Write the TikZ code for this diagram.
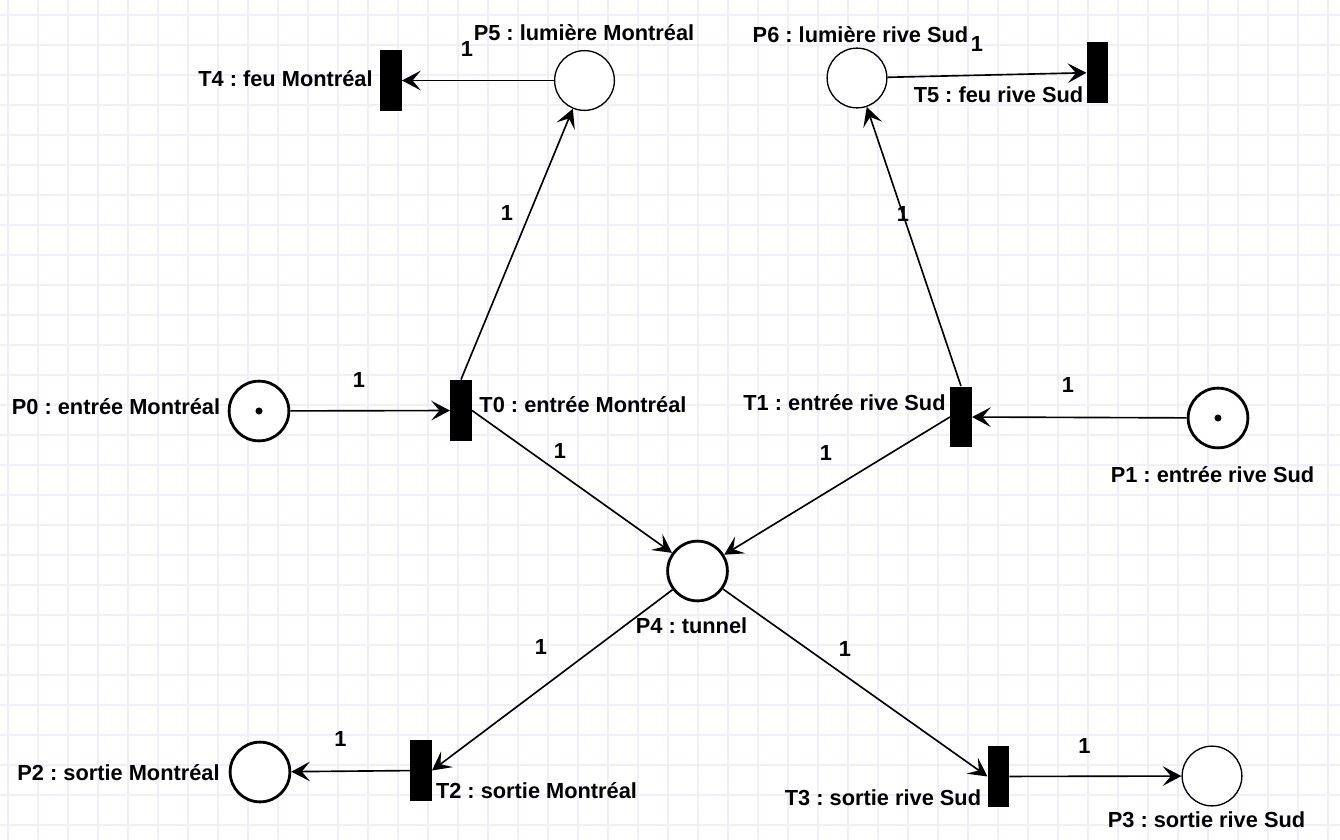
\documentclass[tikz,border=0pt]{standalone}
\usepackage{fontspec}
\setmainfont{Liberation Sans}
\usetikzlibrary{arrows,arrows.meta,shapes,positioning}
\definecolor{gridline}{RGB}{238,238,252}
\frenchspacing

\begin{document}
\begin{tikzpicture}[scale=0.15]
                    \tikzstyle{every node}+=[inner sep=0pt]
                    \tikzstyle{place}=[draw=black, circle, line width=0.57pt, minimum size=25.5pt, fill=white]
                    \tikzstyle{heavy}=[line width=1.2pt]
                    \tikzstyle{trans}=[fill=black, rectangle, minimum width=9pt, minimum height=26pt]
                    \tikzstyle{token}=[fill=black, circle, minimum size=3pt]
                    \tikzstyle{lbl}=[font=\bfseries\fontsize{9.3}{11}\selectfont, text height=6.7pt, text depth=0pt]
                    \tikzstyle{flow}=[line width=0.7pt, -{Stealth[length=8pt,width=8.4pt,inset=3.5pt]}]
                    \useasboundingbox (0,0) rectangle (134,-84);
                    \fill [white] (0,0) rectangle (134,-84);
                    % grid
                    \foreach \x in {0,...,44}
                        \draw [gridline, line width=0.8pt] (0.8+3*\x,0) -- (0.8+3*\x,-84);
                    \foreach \y in {0,...,27}
                        \draw [gridline, line width=0.8pt] (0,-1.5-3*\y) -- (134,-1.5-3*\y);
                    % places
                    \node [place, heavy] (P0) at (25.9,-41.1) {};
                    \node [place, heavy] (P1) at (121.8,-41.8) {};
                    \node [place, heavy] (P2) at (26.0,-77.2) {};
                    \node [place] (P3) at (121.2,-77.6) {};
                    \node [place, heavy] (P4) at (69.75,-57.1) {};
                    \node [place] (P5) at (58.45,-8.05) {};
                    \node [place] (P6) at (85.7,-7.8) {};
                    \node [token] (k0) at (P0) {};
                    \node [token] (k1) at (P1) {};
                    % transitions
                    \node [trans] (T0) at (46.1,-41.05) {};
                    \node [trans] (T1) at (96.1,-41.7) {};
                    \node [trans] (T2) at (42.1,-77.05) {};
                    \node [trans] (T3) at (99.85,-77.65) {};
                    \node [trans] (T4) at (39.1,-8.05) {};
                    \node [trans] (T5) at (109.75,-7.25) {};
                    % names
                    \node [lbl] (nP0) at (11.6,-40.7) {P0 : entrée Montréal};
                    \node [lbl] (nP1) at (121.25,-47.5) {P1 : entrée rive Sud};
                    \node [lbl] (nP2) at (11.85,-77.3) {P2 : sortie Montréal};
                    \node [lbl] (nP3) at (120.65,-82.0) {P3 : sortie rive Sud};
                    \node [lbl] (nP4) at (69.15,-62.6) {P4 : tunnel};
                    \node [lbl] (nP5) at (58.4,-3.3) {P5 : lumière Montréal};
                    \node [lbl] (nP6) at (86.05,-3.5) {P6 : lumière rive Sud};
                    \node [lbl] (nT0) at (58.3,-40.5) {T0 : entrée Montréal};
                    \node [lbl] (nT1) at (84.45,-40.3) {T1 : entrée rive Sud};
                    \node [lbl] (nT2) at (53.65,-79.1) {T2 : sortie Montréal};
                    \node [lbl] (nT3) at (88.3,-79.8) {T3 : sortie rive Sud};
                    \node [lbl] (nT4) at (28.55,-7.9) {T4 : feu Montréal};
                    \node [lbl] (nT5) at (99.85,-9.5) {T5 : feu rive Sud};
                    % arcs
                    \draw [flow] (P5) -- (T4);
                    \draw [flow] (T0.north) -- (P5);
                    \draw [flow] (P0) -- (T0);
                    \draw [flow] (T0.east) -- (P4);
                    \draw [flow] (T1.north) -- (P6);
                    \draw [flow] (P6) -- (T5);
                    \draw [flow] (P1) -- (T1);
                    \draw [flow] (T1.west) -- (P4);
                    \draw [flow] (P4) -- (T2.east);
                    \draw [flow] (T2) -- (P2);
                    \draw [flow] (P4) -- (T3.west);
                    \draw [flow] (T3) -- (P3);
                    % weights
                    \node [lbl] (w54) at (46.7,-4.9) {1};
                    \node [lbl] (w05) at (50.7,-21.3) {1};
                    \node [lbl] (w00) at (35.9,-38.0) {1};
                    \node [lbl] (w04) at (56.0,-45.1) {1};
                    \node [lbl] (w16) at (90.3,-21.4) {1};
                    \node [lbl] (w65) at (97.7,-4.4) {1};
                    \node [lbl] (w11) at (106.8,-38.5) {1};
                    \node [lbl] (w14) at (82.6,-45.3) {1};
                    \node [lbl] (w42) at (54.1,-64.7) {1};
                    \node [lbl] (w22) at (34.05,-73.9) {1};
                    \node [lbl] (w43) at (84.5,-64.9) {1};
                    \node [lbl] (w33) at (108.45,-74.6) {1};
                \end{tikzpicture}
\end{document}
